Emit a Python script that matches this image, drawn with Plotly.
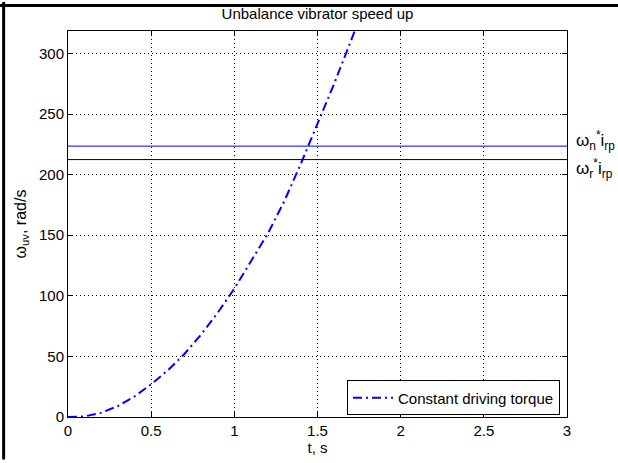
import plotly.graph_objects as go

# Data
t_vals = [0.0, 0.07, 0.1, 0.2, 0.3, 0.4, 0.5, 0.6, 0.7, 0.8, 0.9, 1.0,
          1.1, 1.2, 1.3, 1.4, 1.5, 1.6, 1.7, 1.75]
omega_vals = [0.0, 0.0, 0.5, 3.5, 9.0, 17.0, 27.0, 38.5, 52.0, 68.0, 86.0, 106.0,
              128.0, 151.0, 178.0, 209.0, 242.0, 275.0, 310.0, 328.0]
t_range = [0, 3]
omega_n_irp = 223.5
omega_r_irp = 212.4
x_ticks = [0, 0.5, 1, 1.5, 2, 2.5, 3]
x_tick_labels = ["0", "0.5", "1", "1.5", "2", "2.5", "3"]
y_ticks = [0, 50, 100, 150, 200, 250, 300]
y_tick_labels = ["0", "50", "100", "150", "200", "250", "300"]

FONT = "Liberation Sans, Arial, sans-serif"
FS = 15

fig = go.Figure()
fig.add_trace(go.Scatter(
    x=t_vals, y=omega_vals, mode="lines",
    name="Constant driving torque",
    line=dict(color="#0000ff", width=2, dash="9px,4px,2px,4px"),
))
fig.add_trace(go.Scatter(
    x=t_range, y=[omega_n_irp, omega_n_irp], mode="lines",
    line=dict(color="#0000ff", width=1), showlegend=False,
))
fig.add_trace(go.Scatter(
    x=t_range, y=[omega_r_irp, omega_r_irp], mode="lines",
    line=dict(color="#000000", width=1), showlegend=False,
))

axis_common = dict(
    showline=True, linecolor="black", linewidth=1, mirror="ticks",
    ticks="inside", ticklen=5, tickcolor="black",
    showgrid=True, gridcolor="black", gridwidth=1, griddash="1px,3px",
    zeroline=False, tickfont=dict(family=FONT, size=FS, color="black"),
)

fig.update_layout(
    width=618, height=463,
    margin=dict(l=68, r=51, t=31, b=41),
    paper_bgcolor="white", plot_bgcolor="white",
    font=dict(family=FONT, size=FS, color="black"),
    title=dict(text="Unbalance vibrator speed up", x=0.5, xref="paper",
               xanchor="center", y=1, yref="container", yanchor="top", pad=dict(t=8),
               font=dict(family=FONT, size=FS, color="black")),
    xaxis=dict(range=t_range, tickvals=x_ticks, ticktext=x_tick_labels,
               title=dict(text="t, s", standoff=1, font=dict(family=FONT, size=FS)),
               **axis_common),
    yaxis=dict(range=[0, 318.5], tickvals=y_ticks, ticktext=y_tick_labels,
               title=dict(text="ω<sub>uv</sub>, rad/s", standoff=8, font=dict(family=FONT, size=16)),
               **axis_common),
    legend=dict(x=0.986, y=0.004, xanchor="right", yanchor="bottom",
                bgcolor="white", bordercolor="black", borderwidth=1,
                font=dict(family=FONT, size=FS, color="black"),
                itemwidth=40, tracegroupgap=0),
    showlegend=True,
)

fig.add_annotation(x=1.014, y=omega_n_irp, xref="paper", yref="y",
                   text="ω<sub>n</sub><sup>*</sup>i<sub>rp</sub>",
                   showarrow=False, xanchor="left", yanchor="middle", yshift=6,
                   font=dict(family=FONT, size=17, color="black"))
fig.add_annotation(x=1.014, y=omega_r_irp, xref="paper", yref="y",
                   text="ω<sub>r</sub><sup>*</sup>i<sub>rp</sub>",
                   showarrow=False, xanchor="left", yanchor="middle", yshift=-9,
                   font=dict(family=FONT, size=17, color="black"))

# Outer figure frame (top and left black edges)
fig.add_shape(type="line", xref="paper", yref="paper", x0=-0.14, x1=1.11, y0=1.066, y1=1.066,
              line=dict(color="black", width=3), layer="above")
fig.add_shape(type="line", xref="paper", yref="paper", x0=-0.129, x1=-0.129, y0=1.075, y1=-0.11,
              line=dict(color="black", width=3), layer="above")

fig.write_html("out.html", config={"displayModeBar": False},
               post_script="document.body.style.margin='0';")
